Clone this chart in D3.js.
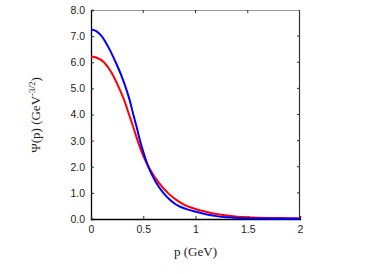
<!DOCTYPE html>
<html><head><meta charset="utf-8">
<script src="https://cdn.jsdelivr.net/npm/d3@7"></script>
<style>body{margin:0;background:#fff}svg{display:block}</style>
</head><body>
<svg id="c" width="390" height="274"></svg>
<script>
const pBlue = [0,0.05,0.102,0.17,0.236,0.29,0.335,0.37,0.405,0.437,0.469,0.5,0.548,0.62,0.692,0.76,0.836,0.92,1.0,1.1,1.2,1.3,1.4,1.5,1.6,1.8,2.0];
const psiBlue = [7.25,7.19,7.0,6.55,6.0,5.5,5.0,4.55,4.0,3.52,3.0,2.57,2.0,1.42,1.0,0.72,0.5,0.37,0.28,0.18,0.11,0.065,0.04,0.025,0.015,0.008,0.005];
const pRed = [0,0.05,0.124,0.2,0.27,0.32,0.364,0.405,0.446,0.5,0.565,0.65,0.74,0.82,0.9,0.95,1.0,1.1,1.2,1.3,1.4,1.5,1.6,1.8,2.0];
const psiRed = [6.22,6.18,6.0,5.58,5.0,4.52,4.0,3.51,3.0,2.42,1.9,1.38,0.98,0.72,0.53,0.45,0.385,0.28,0.19,0.13,0.09,0.065,0.05,0.035,0.03];
const xTicks = [0,0.5,1,1.5,2];
const xTickLabels = ["0","0.5","1","1.5","2"];
const yTicks = [0,1,2,3,4,5,6,7,8];
const yTickLabels = ["0.0","1.0","2.0","3.0","4.0","5.0","6.0","7.0","8.0"];

const svg = d3.select("#c");
const L=91,R=300,T=10,B=219;
const x = d3.scaleLinear().domain([0,2]).range([L,R]);
const y = d3.scaleLinear().domain([0,8]).range([B,T]);

svg.append("line").attr("x1",L).attr("x2",R).attr("y1",T+0.5).attr("y2",T+0.5).attr("stroke","#999").attr("stroke-width",1.2);
svg.append("line").attr("x1",R-0.5).attr("x2",R-0.5).attr("y1",T).attr("y2",B).attr("stroke","#333").attr("stroke-width",1.2);

const tickLen=3;
const fontTick = "Liberation Sans, Arial, sans-serif";
const yAxis = svg.append("g").attr("transform",`translate(${L},0)`)
  .call(d3.axisLeft(y).tickValues(yTicks).tickSize(-tickLen).tickPadding(6).tickFormat((d,i)=>yTickLabels[i]));
const xAxis = svg.append("g").attr("transform",`translate(0,${B})`)
  .call(d3.axisBottom(x).tickValues(xTicks).tickSize(-tickLen).tickPadding(7).tickFormat((d,i)=>xTickLabels[i]));
[yAxis,xAxis].forEach(g=>{
  g.select(".domain").attr("stroke","#000").attr("stroke-width",1.3);
  g.selectAll(".tick line").attr("stroke","#333");
  g.selectAll("text").attr("font-family",fontTick).attr("font-size",10.5).attr("fill","#222");
});
svg.append("g").selectAll("line").data(yTicks.filter(d=>d>0&&d<8)).join("line")
  .attr("x1",R).attr("x2",R-tickLen).attr("y1",d=>y(d)).attr("y2",d=>y(d)).attr("stroke","#333");
svg.append("g").selectAll("line").data(xTicks.filter(d=>d>0&&d<2)).join("line")
  .attr("x1",d=>x(d)).attr("x2",d=>x(d)).attr("y1",T).attr("y2",T+tickLen).attr("stroke","#333");

const line = d3.line().x(d=>x(d[0])).y(d=>y(d[1])).curve(d3.curveMonotoneX);
svg.append("path").datum(pRed.map((p,i)=>[p,psiRed[i]])).attr("d",line)
  .attr("fill","none").attr("stroke","#ff0000").attr("stroke-width",2);
svg.append("path").datum(pBlue.map((p,i)=>[p,psiBlue[i]])).attr("d",line)
  .attr("fill","none").attr("stroke","#0000ff").attr("stroke-width",2);

const serif = "Liberation Serif, Times New Roman, serif";
svg.append("text").attr("x",(L+R)/2).attr("y",256).attr("text-anchor","middle")
  .attr("font-family",serif).attr("font-size",13).attr("fill","#222").text("p (GeV)");
const yl = svg.append("text").attr("transform","translate(40,115) rotate(-90)").attr("text-anchor","middle")
  .attr("font-family",serif).attr("font-size",13).attr("fill","#222");
yl.append("tspan").text("Ψ(p) (GeV");
yl.append("tspan").attr("dy",-5).attr("font-size",9).text("-3/2");
yl.append("tspan").attr("dy",5).text(")");
</script>
</body></html>
